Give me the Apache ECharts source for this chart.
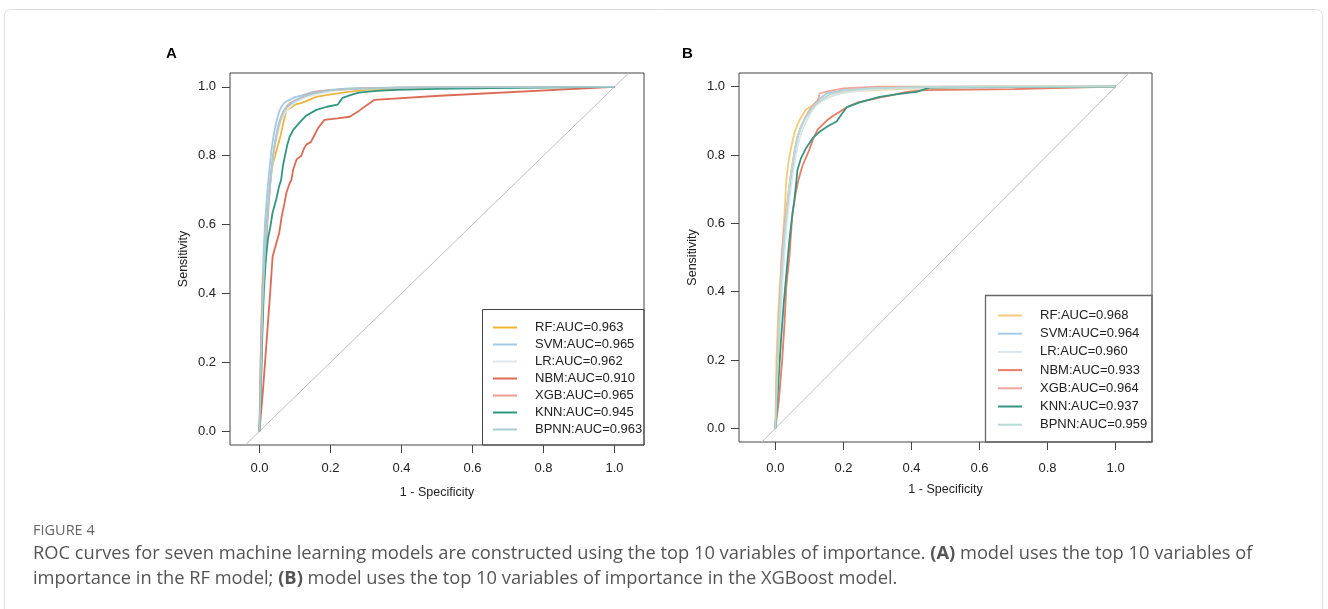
<!DOCTYPE html>
<html>
<head>
<meta charset="utf-8">
<script src="https://cdn.jsdelivr.net/npm/echarts@6/dist/echarts.min.js"></script>
<style>
html,body{margin:0;padding:0;background:#fff;}
#chart{width:1328px;height:609px;}
</style>
</head>
<body>
<div id="chart"></div>
<script>
// ---------- data ----------
const models = ['RF', 'SVM', 'LR', 'NBM', 'XGB', 'KNN', 'BPNN'];
const aucA = [0.963, 0.965, 0.962, 0.910, 0.965, 0.945, 0.963];
const aucB = [0.968, 0.964, 0.960, 0.933, 0.964, 0.937, 0.959];
const tickValues = [0, 0.2, 0.4, 0.6, 0.8, 1.0];
const diagonal = [[-0.04, -0.04], [1.04, 1.04]];

// Panel A ROC curves [1 - specificity, sensitivity]
const rfA = [[0,0],[0.003,0.10],[0.006,0.25],[0.010,0.40],[0.014,0.50],[0.018,0.58],[0.024,0.65],[0.030,0.72],[0.036,0.77],[0.044,0.80],[0.052,0.83],[0.060,0.86],[0.066,0.89],[0.072,0.915],[0.077,0.933],[0.09,0.94],[0.10,0.948],[0.121,0.954],[0.14,0.962],[0.16,0.971],[0.20,0.978],[0.25,0.985],[0.30,0.991],[0.40,0.994],[0.5,0.997],[0.7,0.999],[1,1]];
const svmA = [[0,0],[0.002,0.12],[0.005,0.28],[0.008,0.42],[0.012,0.53],[0.016,0.61],[0.021,0.68],[0.027,0.75],[0.033,0.81],[0.040,0.86],[0.048,0.90],[0.056,0.93],[0.064,0.945],[0.072,0.955],[0.085,0.962],[0.10,0.97],[0.12,0.975],[0.15,0.985],[0.19,0.99],[0.25,0.995],[0.4,0.998],[0.6,1],[1,1]];
const lrA = [[0,0],[0.003,0.10],[0.007,0.25],[0.011,0.40],[0.016,0.52],[0.021,0.60],[0.027,0.68],[0.034,0.75],[0.042,0.82],[0.050,0.86],[0.060,0.90],[0.070,0.92],[0.080,0.935],[0.095,0.95],[0.11,0.96],[0.13,0.97],[0.17,0.98],[0.22,0.99],[0.30,0.995],[0.5,0.998],[1,1]];
const nbmA = [[0,0],[0.010,0.12],[0.020,0.26],[0.030,0.40],[0.037,0.507],[0.048,0.548],[0.056,0.577],[0.062,0.62],[0.070,0.66],[0.076,0.693],[0.085,0.72],[0.090,0.73],[0.095,0.76],[0.105,0.79],[0.118,0.80],[0.125,0.82],[0.132,0.832],[0.145,0.84],[0.155,0.86],[0.165,0.88],[0.183,0.904],[0.22,0.908],[0.254,0.913],[0.28,0.93],[0.30,0.945],[0.324,0.962],[0.507,0.974],[1,1]];
const xgbA = [[0,0],[0.002,0.15],[0.005,0.30],[0.010,0.45],[0.018,0.50],[0.020,0.557],[0.022,0.60],[0.026,0.66],[0.031,0.73],[0.037,0.79],[0.044,0.84],[0.052,0.88],[0.060,0.91],[0.068,0.93],[0.078,0.945],[0.09,0.955],[0.11,0.965],[0.13,0.975],[0.16,0.985],[0.20,0.99],[0.30,0.996],[0.45,0.998],[1,1]];
const knnA = [[0,0],[0.004,0.12],[0.008,0.28],[0.012,0.40],[0.018,0.50],[0.024,0.56],[0.030,0.59],[0.037,0.635],[0.047,0.672],[0.055,0.71],[0.061,0.73],[0.066,0.77],[0.072,0.80],[0.078,0.83],[0.085,0.855],[0.095,0.875],[0.113,0.896],[0.13,0.915],[0.16,0.933],[0.19,0.942],[0.22,0.948],[0.234,0.968],[0.26,0.977],[0.28,0.983],[0.33,0.988],[0.386,0.991],[0.5,0.994],[0.656,0.996],[1,1]];
const bpnnA = [[0,0],[0.003,0.12],[0.006,0.26],[0.010,0.40],[0.015,0.51],[0.020,0.60],[0.026,0.67],[0.032,0.74],[0.038,0.80],[0.046,0.85],[0.054,0.89],[0.062,0.915],[0.072,0.935],[0.085,0.948],[0.10,0.96],[0.12,0.97],[0.15,0.98],[0.20,0.99],[0.28,0.995],[0.45,0.998],[1,1]];

// Panel B ROC curves
const rfB = [[0,0],[0.003,0.20],[0.008,0.33],[0.012,0.40],[0.018,0.485],[0.024,0.58],[0.028,0.65],[0.032,0.728],[0.040,0.79],[0.048,0.83],[0.056,0.865],[0.065,0.89],[0.075,0.91],[0.09,0.933],[0.11,0.945],[0.13,0.956],[0.16,0.97],[0.19,0.982],[0.24,0.987],[0.306,0.991],[0.45,0.996],[0.6,1],[1,1]];
const svmB = [[0,0],[0.005,0.12],[0.012,0.30],[0.018,0.42],[0.024,0.52],[0.030,0.60],[0.036,0.65],[0.042,0.70],[0.050,0.76],[0.058,0.81],[0.065,0.853],[0.075,0.88],[0.088,0.91],[0.10,0.93],[0.115,0.95],[0.13,0.965],[0.15,0.98],[0.20,0.99],[0.30,0.997],[0.5,1],[1,1]];
const lrB = [[0,0],[0.006,0.12],[0.013,0.28],[0.020,0.41],[0.026,0.50],[0.032,0.58],[0.038,0.64],[0.045,0.70],[0.052,0.75],[0.060,0.80],[0.070,0.845],[0.080,0.875],[0.092,0.90],[0.105,0.925],[0.12,0.945],[0.14,0.96],[0.17,0.975],[0.22,0.985],[0.30,0.993],[0.5,0.998],[1,1]];
const nbmB = [[0,0],[0.010,0.08],[0.020,0.20],[0.027,0.31],[0.032,0.415],[0.041,0.50],[0.050,0.63],[0.060,0.69],[0.068,0.728],[0.080,0.77],[0.10,0.816],[0.112,0.85],[0.124,0.874],[0.15,0.90],[0.17,0.915],[0.19,0.927],[0.21,0.94],[0.24,0.953],[0.27,0.96],[0.306,0.968],[0.35,0.977],[0.385,0.985],[0.44,0.99],[0.7,0.993],[1,1]];
const xgbB = [[0,0],[0.004,0.15],[0.010,0.30],[0.016,0.45],[0.018,0.50],[0.025,0.58],[0.032,0.64],[0.040,0.70],[0.048,0.76],[0.056,0.81],[0.064,0.85],[0.074,0.88],[0.086,0.905],[0.10,0.93],[0.11,0.945],[0.125,0.96],[0.13,0.98],[0.153,0.986],[0.20,0.995],[0.30,1],[1,1]];
const knnB = [[0,0],[0.008,0.12],[0.016,0.25],[0.024,0.36],[0.032,0.45],[0.041,0.55],[0.048,0.61],[0.056,0.67],[0.065,0.757],[0.075,0.79],[0.09,0.82],[0.11,0.85],[0.13,0.868],[0.155,0.885],[0.18,0.898],[0.195,0.92],[0.21,0.94],[0.25,0.955],[0.306,0.97],[0.36,0.978],[0.415,0.985],[0.453,0.997],[0.55,0.998],[1,1]];
const bpnnB = [[0,0],[0.005,0.13],[0.011,0.30],[0.017,0.43],[0.023,0.52],[0.030,0.60],[0.036,0.66],[0.042,0.72],[0.050,0.77],[0.058,0.82],[0.066,0.855],[0.076,0.885],[0.09,0.91],[0.105,0.933],[0.12,0.95],[0.14,0.965],[0.16,0.978],[0.20,0.988],[0.28,0.995],[0.45,0.999],[1,1]];

const curvesA = [rfA, svmA, lrA, nbmA, xgbA, knnA, bpnnA];
const curvesB = [rfB, svmB, lrB, nbmB, xgbB, knnB, bpnnB];

// ---------- styles ----------
const colorsA = ['#EDB53C', '#A3C9E6', '#DCE7EF', '#DD6A55', '#EE9C8C', '#2F977F', '#A8CBD0'];
const colorsB = ['#F6CB78', '#A9CBE9', '#DAE6EE', '#E57D68', '#EFA69C', '#3A9580', '#B8DAD4'];
const FONT = '"Liberation Sans", Arial, Helvetica, sans-serif';
const CAPFONT = '"Open Sans", "Noto Sans", sans-serif';

const namesA = models.map((m, i) => m + ':AUC=' + aucA[i].toFixed(3));
const namesB = models.map((m, i) => m + ':AUC=' + aucB[i].toFixed(3));

function makeXAxis(gi, min, max, margin) {
  return {
    gridIndex: gi, type: 'value', min: min, max: max, position: 'bottom',
    axisLine: { show: false, onZero: false },
    axisTick: { show: true, inside: false, length: 8, lineStyle: { color: '#444', width: 1 }, customValues: tickValues },
    axisLabel: { customValues: tickValues, margin: margin, fontSize: 13, color: '#222', fontFamily: FONT,
                 formatter: v => v.toFixed(1) },
    splitLine: { show: false },
    name: '1 - Specificity', nameLocation: 'middle', nameGap: 41,
    nameTextStyle: { fontSize: 12.5, color: '#222', fontFamily: FONT }
  };
}
function makeYAxis(gi) {
  return {
    gridIndex: gi, type: 'value', min: -0.04, max: 1.04, position: 'left',
    axisLine: { show: false, onZero: false },
    axisTick: { show: true, inside: false, length: 8, lineStyle: { color: '#444', width: 1 }, customValues: tickValues },
    axisLabel: { customValues: tickValues, margin: 14, fontSize: 13, color: '#222', fontFamily: FONT,
                 formatter: v => v.toFixed(1) },
    splitLine: { show: false },
    name: 'Sensitivity', nameLocation: 'middle', nameGap: 40, nameRotate: 90,
    nameTextStyle: { fontSize: 12.5, color: '#222', fontFamily: FONT }
  };
}

const series = [];
[0, 1].forEach(gi => {
  series.push({
    type: 'line', xAxisIndex: gi, yAxisIndex: gi, data: diagonal, symbol: 'none', silent: true,
    lineStyle: { color: '#BEBEBE', width: 1 }, z: 1
  });
});
curvesA.forEach((d, i) => series.push({
  name: namesA[i], type: 'line', xAxisIndex: 0, yAxisIndex: 0, data: d, symbol: 'none',
  color: colorsA[i], lineStyle: { color: colorsA[i], width: 1.8 }, z: 2 + i
}));
curvesB.forEach((d, i) => series.push({
  name: namesB[i], type: 'line', xAxisIndex: 1, yAxisIndex: 1, data: d, symbol: 'none',
  color: colorsB[i], lineStyle: { color: colorsB[i], width: 1.8 }, z: 2 + i
}));

function legendCfg(names, left, top, gap) {
  return {
    data: names, orient: 'vertical', left: left, top: top, padding: 0,
    itemWidth: 24, itemHeight: 2, icon: 'rect', itemGap: gap, selectedMode: false,
    textStyle: { fontSize: 13, lineHeight: 13, color: '#222', fontFamily: FONT, padding: [0, 0, 0, 13] }
  };
}

const option = {
  animation: false,
  backgroundColor: '#ffffff',
  grid: [
    { left: 230, top: 73, width: 414, height: 372, show: true, borderColor: '#444', borderWidth: 1, backgroundColor: 'transparent' },
    { left: 739, top: 73, width: 413, height: 369, show: true, borderColor: '#444', borderWidth: 1, backgroundColor: 'transparent' }
  ],
  xAxis: [makeXAxis(0, -0.083, 1.083, 17), makeXAxis(1, -0.107, 1.107, 20)],
  yAxis: [makeYAxis(0), makeYAxis(1)],
  legend: [legendCfg(namesA, 493, 321, 4), legendCfg(namesB, 998, 309, 5.2)],
  series: series,
  graphic: [
    { type: 'rect', shape: { x: 4.5, y: 9.5, width: 1318, height: 700, r: 6 }, style: { fill: 'none', stroke: '#DDDDDD', lineWidth: 1 }, silent: true, z: -10 },
    { type: 'rect', shape: { x: 482.5, y: 309.5, width: 161.5, height: 135.5 }, style: { fill: 'none', stroke: '#444', lineWidth: 1 }, silent: true, z: 100 },
    { type: 'rect', shape: { x: 985.5, y: 295.5, width: 166.5, height: 146.5 }, style: { fill: 'none', stroke: '#666', lineWidth: 1.3 }, silent: true, z: 100 },
    { type: 'text', left: 166, top: 46, style: { text: 'A', font: 'bold 15px ' + FONT, fill: '#000' } },
    { type: 'text', left: 682, top: 46, style: { text: 'B', font: 'bold 15px ' + FONT, fill: '#000' } },
    { type: 'text', left: 33, top: 523, style: { text: 'FIGURE 4', font: '14.5px ' + CAPFONT, fill: '#666' } },
    { type: 'text', left: 33, top: 541, style: {
        text: 'ROC curves for seven machine learning models are constructed using the top 10 variables of importance. {b|(A)} model uses the top 10 variables of\nimportance in the RF model; {b|(B)} model uses the top 10 variables of importance in the XGBoost model.',
        font: '18.3px ' + CAPFONT, fill: '#555', lineHeight: 25,
        rich: { b: { fontWeight: 'bold', fontSize: 18.3, fontFamily: CAPFONT, fill: '#555', lineHeight: 25 } }
    } }
  ]
};

const chart = echarts.init(document.getElementById('chart'), null, { renderer: 'canvas' });
chart.setOption(option);
</script>
</body>
</html>
